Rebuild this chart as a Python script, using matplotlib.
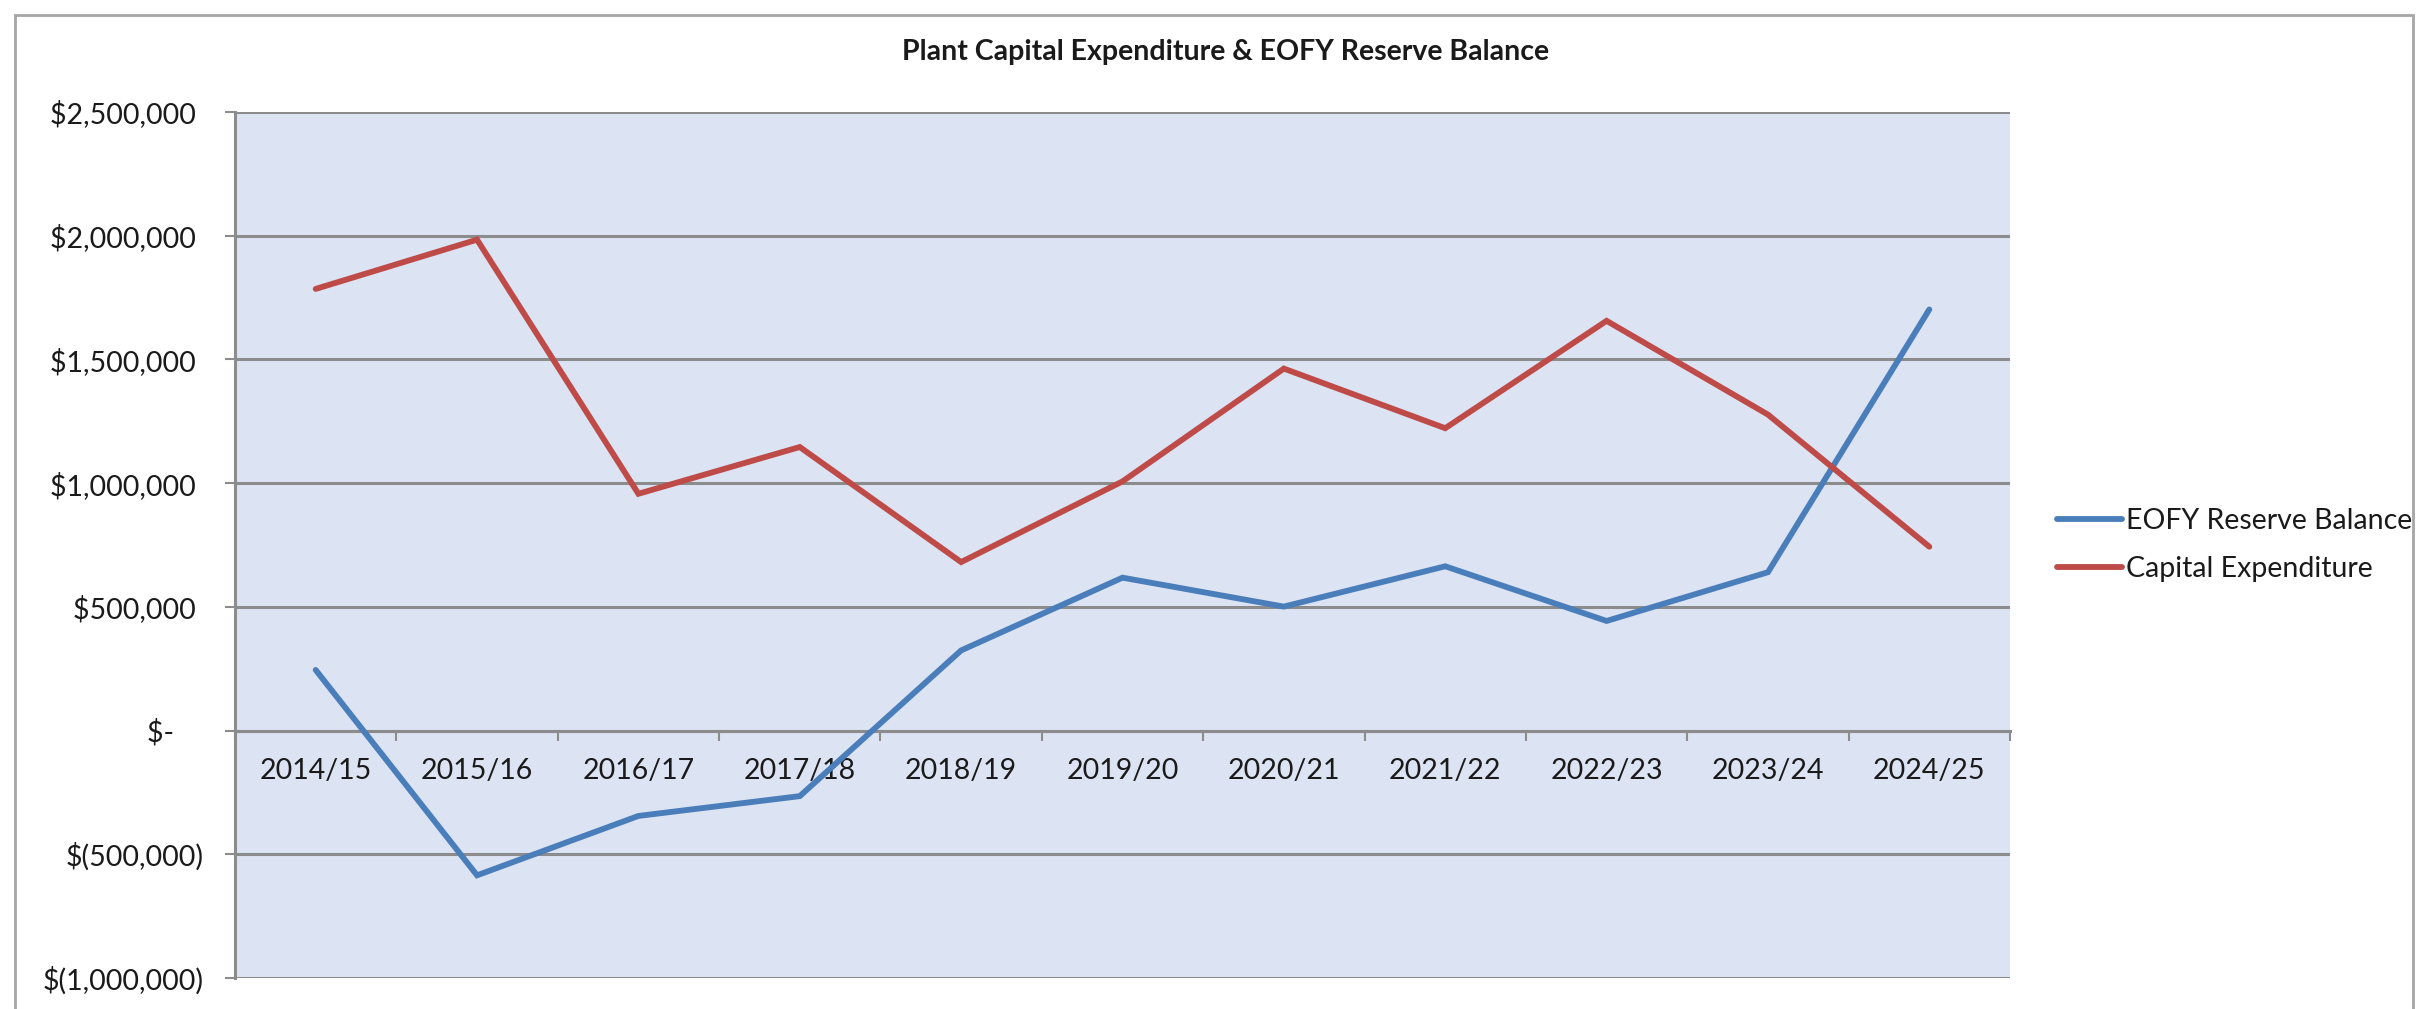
import matplotlib
matplotlib.use("Agg")
import matplotlib.pyplot as plt
from matplotlib.patches import Rectangle
from matplotlib.ticker import FixedLocator, NullFormatter, FixedFormatter

plt.rcParams['font.family'] = ['Lato', 'DejaVu Sans']

categories = ["2014/15", "2015/16", "2016/17", "2017/18", "2018/19", "2019/20",
              "2020/21", "2021/22", "2022/23", "2023/24", "2024/25"]
eofy_reserve = [245000, -585000, -345000, -265000, 324000, 618000,
                501000, 664000, 443000, 640000, 1702000]
capital_expenditure = [1785000, 1984000, 957000, 1146000, 681000, 1007000,
                       1463000, 1222000, 1656000, 1277000, 743000]
y_ticks = [-1000000, -500000, 0, 500000, 1000000, 1500000, 2000000, 2500000]


def acct(v):
    if v == 0:
        return "$-    "
    if v < 0:
        return "$({:,})".format(-v)
    return "${:,} ".format(v)


y_labels = [acct(v) for v in y_ticks]

W, H = 2421, 1009
fig = plt.figure(figsize=(W / 100, H / 100), dpi=100)
fig.patch.set_facecolor("white")

left, right, top, bottom = 235, 2010, 112, 978
ax = fig.add_axes([left / W, 1 - bottom / H, (right - left) / W, (bottom - top) / H])
ax.set_facecolor("#DCE3F2")

FS = 20.5
x = list(range(len(categories)))
ax.plot(x, eofy_reserve, color="#4A7EBB", lw=4.2, solid_capstyle="round",
        solid_joinstyle="miter", label="EOFY Reserve Balance", zorder=3)
ax.plot(x, capital_expenditure, color="#BE4B48", lw=4.2, solid_capstyle="round",
        solid_joinstyle="miter", label="Capital Expenditure", zorder=3)

ax.set_xlim(-0.5, len(categories) - 0.5)
ax.set_ylim(-1000000, 2500000)

# y axis
ax.yaxis.set_major_locator(FixedLocator(y_ticks))
ax.yaxis.set_major_formatter(FixedFormatter(y_labels))
ax.tick_params(axis="y", which="major", length=7.2, width=1.5, color="#8C8C8C",
               labelsize=FS, pad=15.5, labelcolor="#1A1A1A")
ax.yaxis.grid(True, color="#8C8C8C", lw=2.2, zorder=1)
ax.set_axisbelow(True)

# x axis at zero, ticks at category boundaries, labels at centers
ax.spines["bottom"].set_position(("data", 0))
ax.spines["bottom"].set_color("#8C8C8C")
ax.spines["bottom"].set_linewidth(2.2)
ax.xaxis.set_major_locator(FixedLocator([i - 0.5 for i in range(len(categories) + 1)]))
ax.xaxis.set_major_formatter(NullFormatter())
ax.xaxis.set_minor_locator(FixedLocator(x))
ax.xaxis.set_minor_formatter(FixedFormatter(categories))
ax.tick_params(axis="x", which="major", length=7.2, width=1.5, color="#8C8C8C", direction="out")
ax.tick_params(axis="x", which="minor", length=0, labelsize=FS, pad=20, labelcolor="#1A1A1A")

ax.spines["left"].set_color("#8C8C8C")
ax.spines["left"].set_linewidth(2.2)
ax.spines["top"].set_visible(False)
ax.spines["right"].set_visible(False)

fig.text(1226 / W, 1 - 52 / H, "Plant Capital Expenditure & EOFY Reserve Balance",
         ha="center", va="center", fontsize=20.5, fontweight="bold", color="#1A1A1A")

leg = fig.legend(loc="center left", bbox_to_anchor=(2057 / W, 1 - 545 / H),
                 frameon=False, fontsize=FS, handlelength=2.3, handletextpad=0.12,
                 labelspacing=0.75, borderpad=0, borderaxespad=0)
for t in leg.get_texts():
    t.set_color("#1A1A1A")

fig.patches.append(Rectangle((15 / W, -0.05), (2413 - 15) / W, 1 - 15 / H + 0.05,
                             transform=fig.transFigure, fill=False,
                             edgecolor="#A6A6A6", lw=2, zorder=0))

fig.savefig("out.png", dpi=100, facecolor="white")
